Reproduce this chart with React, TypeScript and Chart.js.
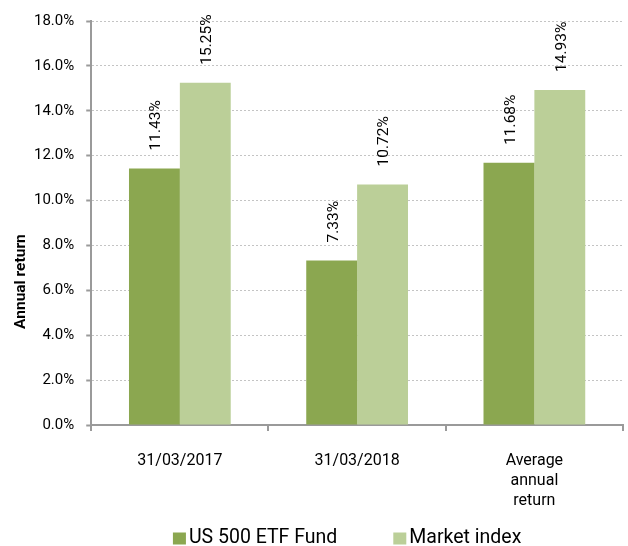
import React, { useEffect, useRef } from "react";
import { Chart, registerables } from "chart.js";

Chart.register(...registerables);

const categories: (string | string[])[] = ["31/03/2017", "31/03/2018", ["Average", "annual", "return"]];
const fundValues = [11.43, 7.33, 11.68];
const indexValues = [15.25, 10.72, 14.93];
const seriesNames = ["US 500 ETF Fund", "Market index"];
const seriesColors = ["#8BA750", "#BBCF98"];
const yTitle = "Annual return";

const FONT = "Roboto, 'Noto Sans', sans-serif";

const barLabels = {
  id: "barLabels",
  afterDatasetsDraw(chart: any) {
    const ctx = chart.ctx;
    ctx.save();
    ctx.font = `15.5px ${FONT}`;
    ctx.fillStyle = "#000";
    ctx.textAlign = "left";
    ctx.textBaseline = "middle";
    chart.data.datasets.forEach((ds: any, di: number) => {
      const meta = chart.getDatasetMeta(di);
      meta.data.forEach((el: any, i: number) => {
        const v = ds.data[i];
        ctx.save();
        ctx.translate(el.x + 2, el.y - 18);
        ctx.rotate(-Math.PI / 2);
        ctx.fillText(v.toFixed(2) + "%", 0, 0);
        ctx.restore();
      });
    });
    ctx.restore();
  },
};

const axisTitleAndLegend = {
  id: "axisTitleAndLegend",
  afterDraw(chart: any) {
    const ctx = chart.ctx;
    const area = chart.chartArea;
    // y-axis title
    ctx.save();
    ctx.font = `bold 15.5px ${FONT}`;
    ctx.fillStyle = "#000";
    ctx.textAlign = "center";
    ctx.textBaseline = "middle";
    ctx.translate(21.5, area.top + (area.bottom - area.top) * 0.645);
    ctx.rotate(-Math.PI / 2);
    ctx.fillText(yTitle, 0, 0);
    ctx.restore();

    // legend
    ctx.save();
    ctx.font = `19.5px ${FONT}`;
    ctx.textBaseline = "middle";
    ctx.textAlign = "left";
    const box = 13;
    const boxGap = 3;
    const itemGap = 56;
    const items = chart.data.datasets.map((ds: any) => ({
      text: ds.label,
      color: ds.backgroundColor,
      w: ctx.measureText(ds.label).width,
    }));
    const total = items.reduce((s: number, it: any) => s + box + boxGap + it.w, 0) + itemGap * (items.length - 1);
    const cx = (area.left + area.right) / 2 - 10;
    let x = cx - total / 2;
    const y = 538.5;
    items.forEach((it: any) => {
      ctx.fillStyle = it.color;
      ctx.fillRect(x, y - 6, box, 12);
      ctx.fillStyle = "#000";
      ctx.fillText(it.text, x + box + boxGap, y);
      x += box + boxGap + it.w + itemGap;
    });
    ctx.restore();
  },
};

export default function App() {
  const ref = useRef<HTMLCanvasElement>(null);
  useEffect(() => {
    document.body.style.margin = "0";
    const chart = new Chart(ref.current!, {
      type: "bar",
      data: {
        labels: categories,
        datasets: [
          { label: seriesNames[0], data: fundValues, backgroundColor: seriesColors[0], barPercentage: 1, categoryPercentage: 0.574 },
          { label: seriesNames[1], data: indexValues, backgroundColor: seriesColors[1], barPercentage: 1, categoryPercentage: 0.574 },
        ],
      },
      options: {
        animation: false,
        responsive: false,
        layout: { padding: { top: 12, left: 22, right: 5, bottom: 15 } },
        plugins: {
          legend: { display: false },
          tooltip: { enabled: false },
        },
        scales: {
          x: {
            offset: true,
            grid: { offset: true, drawOnChartArea: false, tickLength: 6, lineWidth: 2, color: "#9a9a9a", tickColor: "#9a9a9a" },
            border: { color: "#9a9a9a", width: 2 },
            ticks: { font: { family: FONT, size: 16, lineHeight: 1.25 }, color: "#000", padding: 20, maxRotation: 0 },
          },
          y: {
            min: 0,
            max: 18,
            ticks: {
              stepSize: 2,
              font: { family: FONT, size: 15 },
              color: "#000",
              padding: 12,
              callback: (v: any) => Number(v).toFixed(1) + "%",
            },
            grid: { color: "#c4c4c4", lineWidth: 1, tickLength: 5, tickColor: "#9a9a9a", tickWidth: 2, tickBorderDash: [] } as any,
            border: { color: "#9a9a9a", width: 2, dash: [2, 2] },
          },
        },
      },
      plugins: [barLabels, axisTitleAndLegend],
    });
    return () => chart.destroy();
  }, []);
  return <canvas ref={ref} width={628} height={546} style={{ display: "block" }} />;
}
